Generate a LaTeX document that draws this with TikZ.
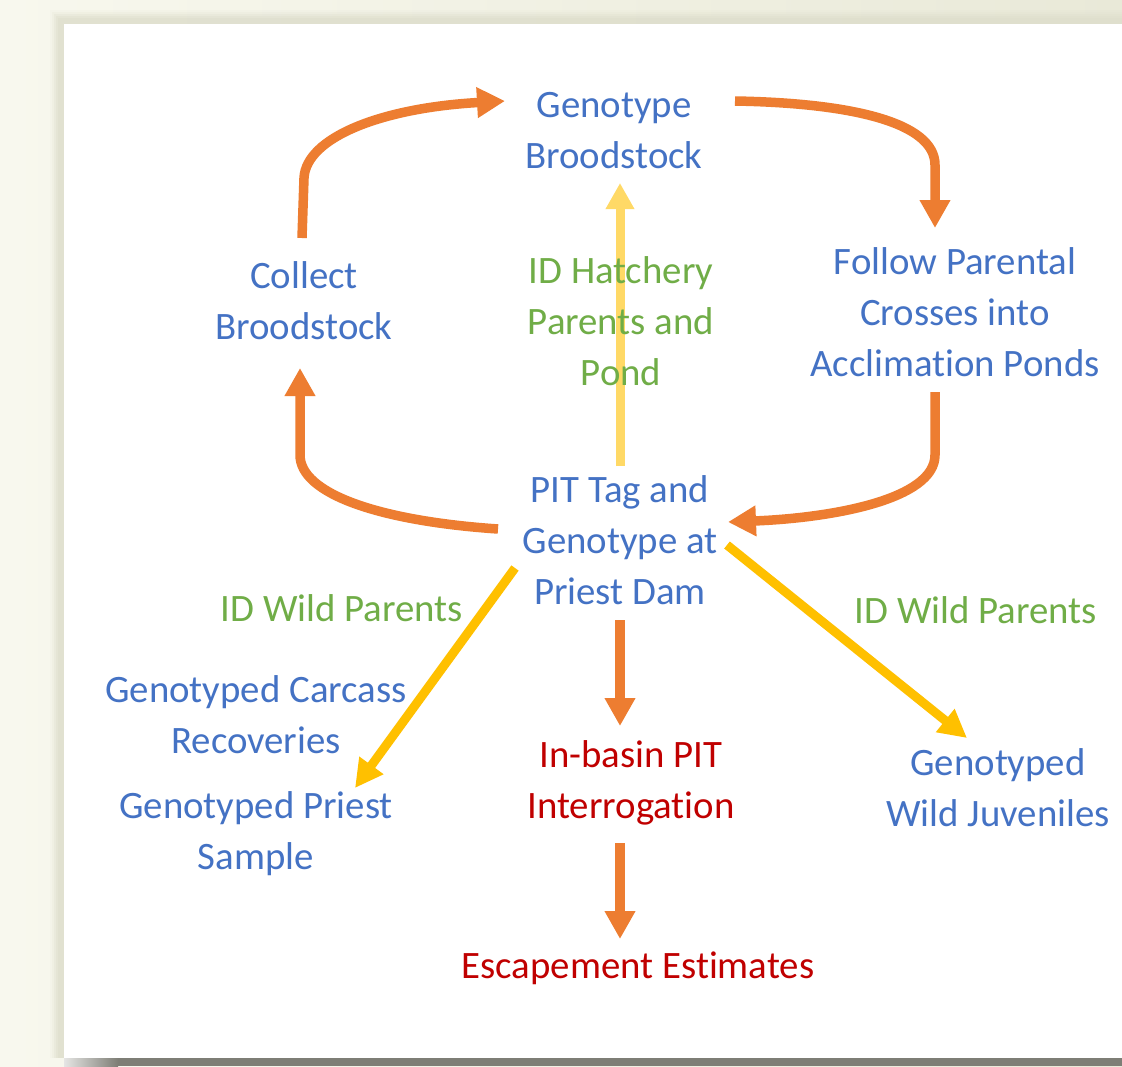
\documentclass[tikz,border=0pt]{standalone}
\usepackage{fontspec}
\setmainfont{Carlito}[Ligatures=NoCommon]
\usetikzlibrary{arrows.meta,calc}
\definecolor{tblue}{HTML}{4472C4}
\definecolor{tgreen}{HTML}{70AD47}
\definecolor{tred}{HTML}{C00000}
\definecolor{torange}{HTML}{ED7D31}
\definecolor{tyellow}{HTML}{FFC000}
\definecolor{tlyellow}{HTML}{FFD966}
\definecolor{creamL}{HTML}{F8F8EE}
\definecolor{creamR}{HTML}{E9E9D8}
\definecolor{edgecream}{HTML}{DEDECC}
\definecolor{shadowgray}{HTML}{7E7E76}
\tikzset{
  lbl/.style={font=\fontsize{38.8}{51}\selectfont, align=center, inner sep=0pt},
  bluetxt/.style={lbl, text=tblue},
  greentxt/.style={lbl, text=tgreen},
  redtxt/.style={lbl, text=tred},
  oarrow/.style={draw=torange, line width=9.5pt, -{Triangle[length=28pt,width=29pt]}},
  yarrow/.style={draw=tyellow, line width=9pt, -{Triangle[length=28pt,width=28pt]}},
  lyarrow/.style={draw=tlyellow, line width=9pt, -{Triangle[length=26pt,width=27pt]}},
}
\begin{document}
\begin{tikzpicture}[x=1pt,y=-1pt]
\useasboundingbox (0,0) rectangle (1122,1066);
% background
\shade[left color=creamL, right color=creamR] (0,0) rectangle (1122,1066);
\foreach \i/\o in {0/0.10,2/0.18,4/0.28,6/0.40,8/0.55}{
  \fill[edgecream, opacity=\o] (64-14+\i,10+\i) rectangle (1122,1058);
}
\shade[left color=shadowgray!20, right color=shadowgray] (64,1058) rectangle (118,1066);
\fill[shadowgray] (118,1058) rectangle (1122,1066);
\fill[white] (64,24) rectangle (1122,1058);

% nodes
\node[bluetxt] (geno) at (614,131) {Genotype\\Broodstock};
\node[bluetxt] (collect) at (304,301) {Collect\\Broodstock};
\node[bluetxt] (follow) at (955,312) {Follow Parental\\Crosses into\\Acclimation Ponds};
\node[bluetxt] (pit) at (620,540) {PIT Tag and\\Genotype at\\Priest Dam};
\node[bluetxt] (carcass) at (256,715) {Genotyped Carcass\\Recoveries};
\node[bluetxt] (priest) at (256,834) {Genotyped Priest\\Sample};
\node[bluetxt] (juv) at (998,788) {Genotyped\\Wild Juveniles};
\node[redtxt] (inbasin) at (631,783) {In-basin PIT\\Interrogation};
\node[redtxt] (escape) at (638,968) {Escapement Estimates};

% connectors
\coordinate (c1s) at (302,238);
\coordinate (c1e) at (505,101);
\coordinate (c2s) at (735,101);
\coordinate (c2e) at (935,228);
\coordinate (c3s) at (935,392);
\coordinate (c3e) at (728,522);
\coordinate (c4s) at (498,529);
\coordinate (c4e) at (300,368);
\draw[oarrow] (c1s) -- (304,178) .. controls (306,138) and (380,108) .. (c1e);
\draw[oarrow] (c2s) .. controls (850,103) and (935,122) .. (935,165) -- (c2e);
\draw[oarrow] (c3s) -- (935,455) .. controls (935,500) and (830,518) .. (c3e);
\draw[oarrow] (c4s) .. controls (380,521) and (300,494) .. (300,455) -- (c4e);

\coordinate (lys) at (620,466);
\coordinate (lye) at (620,183);
\draw[lyarrow] (lys) -- (lye);
\node[greentxt] (hatch) at (621,321) {ID Hatchery\\Parents and\\Pond};

\coordinate (yls) at (515,568);
\coordinate (yle) at (355,788);
\draw[yarrow] (yls) -- (yle);
\coordinate (yrs) at (727,545);
\coordinate (yre) at (967,738);
\draw[yarrow] (yrs) -- (yre);
\node[greentxt] (wildL) at (342,608) {ID Wild Parents};
\node[greentxt] (wildR) at (976,610) {ID Wild Parents};

\coordinate (d1s) at (620,620);
\coordinate (d1e) at (620,726);
\draw[oarrow] (d1s) -- (d1e);
\coordinate (d2s) at (620,843);
\coordinate (d2e) at (620,939);
\draw[oarrow] (d2s) -- (d2e);
\end{tikzpicture}
\end{document}
